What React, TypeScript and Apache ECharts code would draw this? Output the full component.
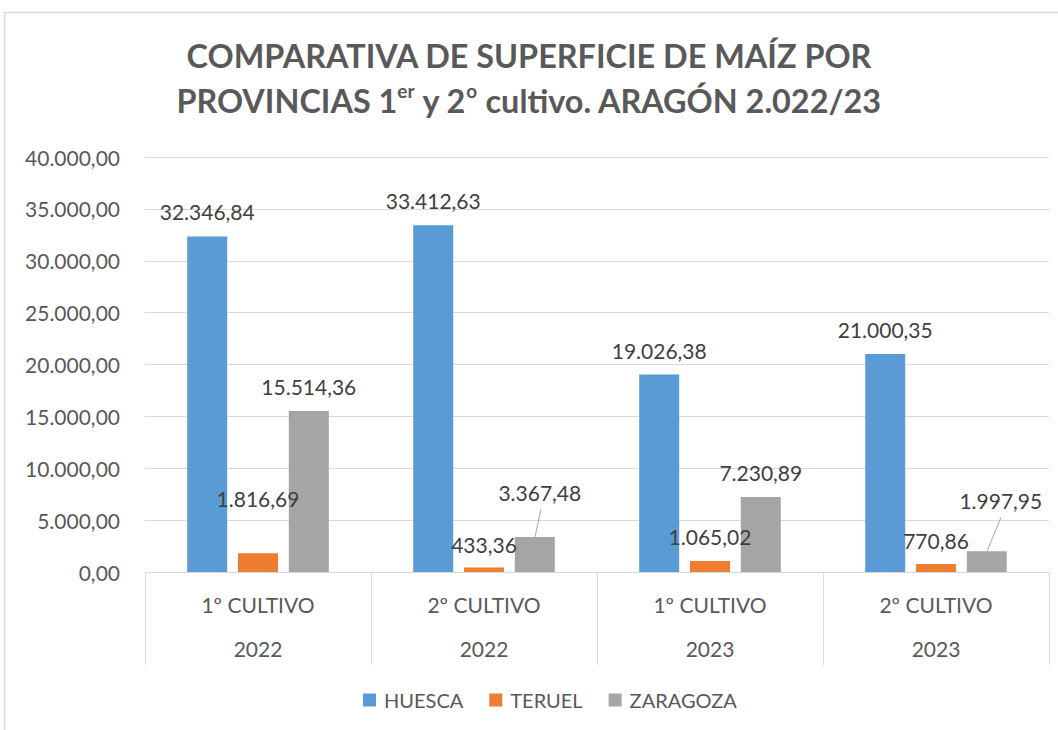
import React, { useEffect, useRef } from "react";
import * as echarts from "echarts";

const categories = ["1º CULTIVO", "2º CULTIVO", "1º CULTIVO", "2º CULTIVO"];
const years = ["2022", "2022", "2023", "2023"];
const huesca = [32346.84, 33412.63, 19026.38, 21000.35];
const teruel = [1816.69, 433.36, 1065.02, 770.86];
const zaragoza = [15514.36, 3367.48, 7230.89, 1997.95];
const yTicks = { min: 0, max: 40000, interval: 5000 };

// label adjustments (pixel offsets, style only)
const teruelShift = [
  { dx: 0, dy: -30 },
  { dx: 0, dy: 1 },
  { dx: 0, dy: 0 },
  { dx: 0, dy: 1 },
];
const zaragozaShift = [
  { dx: 0, dy: 0 },
  { dx: 5, dy: -20 },
  { dx: 0, dy: 0 },
  { dx: 14, dy: -26 },
];
// which Zaragoza labels get a leader line, and the line's pixel geometry
const leaderIndex = [1, 3];
const leaderStyle = [
  { bx: 51, dx: 6, dy: -28 },
  { bx: 51, dx: 14, dy: -34 },
];

function fmt(v: number): string {
  const fixed = Math.abs(v).toFixed(2);
  const [intPart, dec] = fixed.split(".");
  const grouped = intPart.replace(/\B(?=(\d{3})+(?!\d))/g, ".");
  return (v < 0 ? "-" : "") + grouped + "," + dec;
}

const FONT = "Lato, 'Open Sans', sans-serif";
const GRID = "#d9d9d9";
const TXT = "#595959";
const FS = 21;

export default function App() {
  const ref = useRef<HTMLDivElement>(null);
  useEffect(() => {
    if (!ref.current) return;
    const chart = echarts.init(ref.current, undefined, { renderer: "svg" });
    const labelBase = {
      show: true,
      position: "top" as const,
      distance: 14,
      fontSize: FS,
      color: "#404040",
      fontFamily: FONT,
      formatter: (p: any) => fmt(p.value),
    };
    chart.setOption({
      animation: false,
      backgroundColor: "#ffffff",
      textStyle: { fontFamily: FONT },
      title: {
        left: "center",
        top: 28,
        text:
          "{a|COMPARATIVA DE SUPERFICIE DE MAÍZ POR}\n{a|PROVINCIAS 1}{s|er}{a| y 2}{s|o}{a| cultivo. ARAGÓN 2.022/23}",
        textStyle: {
          rich: {
            a: {
              fontSize: 32.4,
              fontWeight: "bold",
              color: TXT,
              fontFamily: FONT,
              lineHeight: 45,
            },
            s: {
              fontSize: 19,
              fontWeight: "bold",
              color: TXT,
              fontFamily: FONT,
              lineHeight: 45,
              verticalAlign: "top",
              padding: [3, 0, 0, 0],
            },
          },
        },
      },
      graphic: [
        {
          type: "rect",
          shape: { x: 4.5, y: 12.5, width: 1200, height: 900 },
          style: { fill: "none", stroke: GRID, lineWidth: 1.5 },
          silent: true,
        },
      ],
      legend: {
        bottom: 15,
        left: 358,
        icon: "rect",
        itemWidth: 13,
        itemHeight: 13,
        itemGap: 26,
        textStyle: {
          fontSize: 20,
          color: TXT,
          fontFamily: FONT,
          padding: [0, 0, 0, 3],
        },
        data: ["HUESCA", "TERUEL", "ZARAGOZA"],
      },
      grid: { left: 145, right: 9, top: 157, bottom: 158 },
      xAxis: [
        {
          type: "category",
          data: categories,
          axisLine: { show: true, lineStyle: { color: GRID, width: 1 } },
          axisTick: { show: true, length: 93, lineStyle: { color: GRID } },
          axisLabel: { margin: 22, fontSize: FS, color: TXT, fontFamily: FONT },
        },
        {
          type: "category",
          data: years,
          position: "bottom",
          axisLine: { show: false },
          axisTick: { show: false },
          axisLabel: { margin: 66, fontSize: FS, color: TXT, fontFamily: FONT },
        },
      ],
      yAxis: {
        type: "value",
        min: yTicks.min,
        max: yTicks.max,
        interval: yTicks.interval,
        axisLine: { show: false },
        axisTick: { show: false },
        splitLine: { lineStyle: { color: GRID, width: 1 } },
        axisLabel: {
          margin: 25,
          fontSize: FS,
          color: TXT,
          fontFamily: FONT,
          formatter: (v: number) => fmt(v),
        },
      },
      series: [
        {
          name: "HUESCA",
          type: "bar",
          xAxisIndex: 0,
          data: huesca,
          barWidth: 40,
          barGap: "27%",
          itemStyle: { color: "#5B9BD5" },
          label: labelBase,
        },
        {
          name: "TERUEL",
          type: "bar",
          xAxisIndex: 0,
          data: teruel,
          barWidth: 40,
          barGap: "27%",
          itemStyle: { color: "#ED7D31" },
          label: labelBase,
          labelLayout: (p: any) => teruelShift[p.dataIndex],
        },
        {
          name: "ZARAGOZA",
          type: "bar",
          xAxisIndex: 0,
          data: zaragoza,
          barWidth: 40,
          barGap: "27%",
          itemStyle: { color: "#A5A5A5" },
          label: labelBase,
          labelLayout: (p: any) => zaragozaShift[p.dataIndex],
        },
        {
          name: "leaders",
          type: "custom",
          xAxisIndex: 0,
          silent: true,
          data: leaderIndex.map((i) => [i, zaragoza[i]]),
          renderItem: (params: any, api: any) => {
            const c = api.coord([api.value(0), api.value(1)]);
            const s = leaderStyle[params.dataIndex];
            const x = c[0] + s.bx;
            return {
              type: "line",
              shape: { x1: x, y1: c[1], x2: x + s.dx, y2: c[1] + s.dy },
              style: { stroke: "#a6a6a6", lineWidth: 1 },
            };
          },
        },
      ],
    });
    return () => chart.dispose();
  }, []);
  return (
    <div
      ref={ref}
      style={{ position: "fixed", left: 0, top: 0, width: 1058, height: 730 }}
    />
  );
}
